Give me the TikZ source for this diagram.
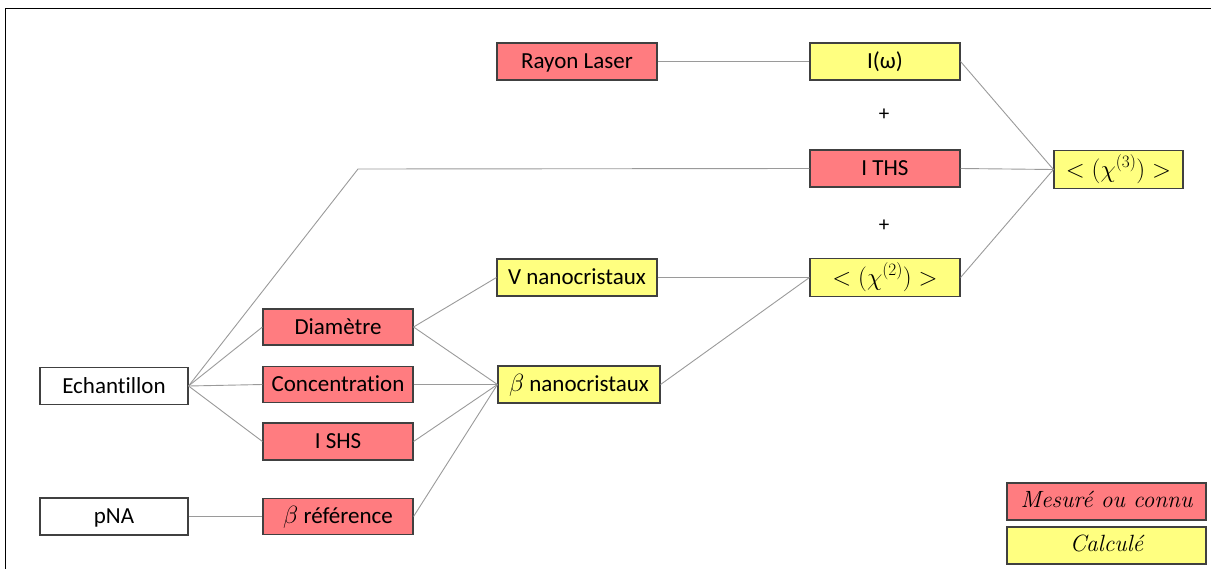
\documentclass[tikz,border=0pt]{standalone}
\usepackage{fontspec}
\newfontfamily\carl[Ligatures=CommonOff]{Carlito}
\definecolor{redfill}{HTML}{FF7C80}
\definecolor{yelfill}{HTML}{FFFF80}
\definecolor{boxline}{HTML}{404040}
\definecolor{connline}{HTML}{9A9A9A}
\tikzset{
  bx/.style={draw=boxline, line width=1.1pt, inner sep=0pt, minimum height=37pt, text height=19pt, text depth=4.2pt, font=\carl\fontsize{23}{27}\selectfont},
  rbox/.style={bx, fill=redfill},
  ybox/.style={bx, fill=yelfill},
  wbox/.style={bx, fill=white},
  mbox/.style={ybox, minimum height=38pt, text height=21pt, text depth=6pt, font=\fontsize{25}{29}\selectfont},
  conn/.style={draw=connline, line width=0.9pt},
  plus/.style={inner sep=0pt, font=\carl\fontsize{21}{24}\selectfont},
  lgd/.style={draw=boxline, line width=1.1pt, inner sep=0pt, minimum height=37pt, minimum width=199pt, text height=16pt, text depth=5pt, font=\fontsize{23.5}{27}\selectfont\itshape}
}
\begin{document}
\begin{tikzpicture}[x=1pt,y=-1pt]
\useasboundingbox (0,0) rectangle (1211,568);
\draw[line width=1.5pt] (5.5,570) -- (5.5,8.5) -- (1213,8.5);

% nodes
\node[rbox, minimum width=160pt] (laser) at (577,61.5) {Rayon Laser};
\node[ybox, minimum width=150pt] (iom) at (885,61.5) {I(ω)};
\node[plus] (p1) at (884,115) {+};
\node[rbox, minimum width=150pt] (iths) at (885,168.5) {I THS};
\node[plus] (p2) at (884,226) {+};
\node[mbox, minimum width=150pt] (chi2) at (885,277.5) {$\mathord{<}\;(\chi^{(2)})\;\mathord{>}$};
\node[mbox, minimum width=129pt] (chi3) at (1118.5,169.5) {$\mathord{<}\;(\chi^{(3)})\;\mathord{>}$};
\node[ybox, minimum width=160pt] (vnano) at (577,277.5) {V nanocristaux};
\node[ybox, minimum width=162pt] (bnano) at (579,384.5) {$\beta$ nanocristaux};
\node[wbox, minimum width=148pt] (ech) at (114,386) {Echantillon};
\node[rbox, minimum width=150pt, minimum height=36pt] (diam) at (338,327) {Diamètre};
\node[rbox, minimum width=150pt, minimum height=36pt] (conc) at (338,384.5) {Concentration};
\node[rbox, minimum width=150pt] (ishs) at (338,441.5) {I SHS};
\node[rbox, minimum width=150pt, minimum height=36pt] (bref) at (338,516.5) {$\beta$ référence};
\node[wbox, minimum width=148pt] (pna) at (114,516.5) {pNA};
\node[lgd, fill=redfill] (lg1) at (1106.5,501.5) {Mesuré ou connu};
\node[lgd, fill=yelfill] (lg2) at (1106.5,545.5) {Calculé};

\coordinate (cths) at (358,169);

% connectors
\draw[conn] (laser.east) -- (iom.west);
\draw[conn] (iom.east) -- (chi3.west);
\draw[conn] (iths.east) -- (chi3.west);
\draw[conn] (chi2.east) -- (chi3.west);
\draw[conn] (vnano.east) -- (chi2.west);
\draw[conn] (bnano.east) -- (chi2.west);
\draw[conn] (ech.east) -- (cths) -- (iths.west);
\draw[conn] (ech.east) -- (diam.west);
\draw[conn] (ech.east) -- (conc.west);
\draw[conn] (ech.east) -- (ishs.west);
\draw[conn] (diam.east) -- (vnano.west);
\draw[conn] (diam.east) -- (bnano.west);
\draw[conn] (conc.east) -- (bnano.west);
\draw[conn] (ishs.east) -- (bnano.west);
\draw[conn] (bref.east) -- (bnano.west);
\draw[conn] (pna.east) -- (bref.west);
\end{tikzpicture}
\end{document}
